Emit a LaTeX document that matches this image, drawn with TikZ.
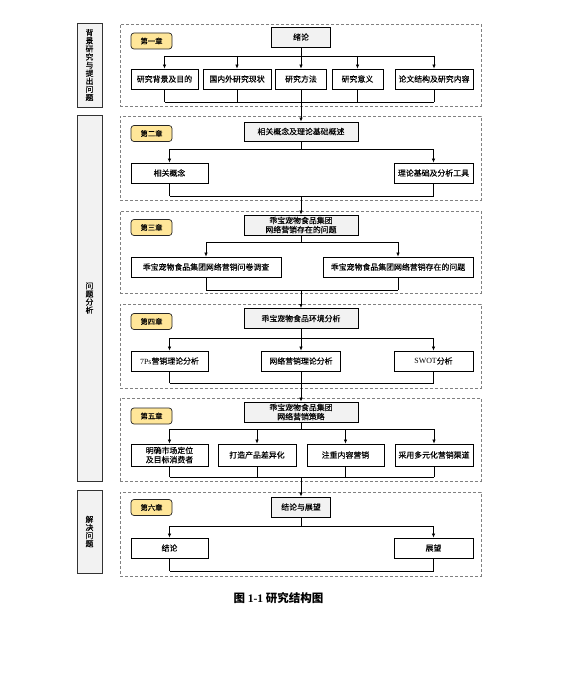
\documentclass[tikz,border=0pt]{standalone}
\usepackage{fontspec}
\setmainfont{Liberation Serif}
\newfontfamily\cjk{Noto Sans CJK SC}[FakeBold=0.2]
\newfontfamily\cjkcap{Noto Sans CJK SC}
\usetikzlibrary{arrows.meta}
\definecolor{tagfill}{RGB}{255,230,153}
\definecolor{boxgray}{RGB}{242,242,242}
\tikzset{
  every node/.style={inner sep=0pt, font=\cjk\fontsize{7.9}{9.2}\selectfont},
  topbox/.style={draw=black, line width=0.9pt, fill=boxgray, minimum height=20, align=center},
  subbox/.style={draw=black, line width=0.8pt, fill=white, minimum height=20, align=center},
  tagbox/.style={draw=black!85, line width=0.7pt, fill=tagfill, rounded corners=3pt, minimum width=41, minimum height=16, font=\cjk\fontsize{7.3}{8}\selectfont},
  sidebox/.style={draw=black!80, line width=0.9pt, fill=boxgray, minimum width=25, align=center, font=\cjk\fontsize{7.8}{8.1}\selectfont},
  framebox/.style={draw=black!50, dash pattern=on 3pt off 2pt, line width=0.7pt, minimum width=361},
  arr/.style={-{Latex[length=4pt,width=3.5pt]}, line width=0.7pt},
  ln/.style={line width=0.7pt},
}
\begin{document}
\begin{tikzpicture}[x=1pt,y=-1pt]
\useasboundingbox[fill=white] (0,0) rectangle (564,698);
% side boxes
\node[sidebox, minimum height=84] (s1) at (89.5,65) {背\\景\\研\\究\\与\\提\\出\\问\\题};
\node[sidebox, minimum height=366] (s2) at (89.5,298) {问\\题\\分\\析};
\node[sidebox, minimum height=83] (s3) at (89.5,531.5) {解\\决\\问\\题};
% dashed frames
\node[framebox, minimum height=82] (f1) at (300.5,65) {};
\node[framebox, minimum height=84] (f2) at (300.5,158) {};
\node[framebox, minimum height=82] (f3) at (300.5,252) {};
\node[framebox, minimum height=84] (f4) at (300.5,346) {};
\node[framebox, minimum height=83] (f5) at (300.5,439.5) {};
\node[framebox, minimum height=84] (f6) at (300.5,534) {};
% chapter tags
\node[tagbox] (k1) at (151.5,41) {第一章};
\node[tagbox] (k2) at (151.5,133.5) {第二章};
\node[tagbox] (k3) at (151.5,227.5) {第三章};
\node[tagbox] (k4) at (151.5,321.5) {第四章};
\node[tagbox] (k5) at (151.5,416) {第五章};
\node[tagbox] (k6) at (151.5,507.5) {第六章};
% top boxes
\node[topbox, minimum width=59] (t1) at (301,37) {绪论};
\node[topbox, minimum width=114, minimum height=19] (t2) at (301,131.5) {相关概念及理论基础概述};
\node[topbox, minimum width=114] (t3) at (301,225) {乖宝宠物食品集团\\网络营销存在的问题};
\node[topbox, minimum width=114] (t4) at (301,318.5) {乖宝宠物食品环境分析};
\node[topbox, minimum width=114] (t5) at (301,412) {乖宝宠物食品集团\\网络营销策略};
\node[topbox, minimum width=59] (t6) at (301,507) {结论与展望};
% section 1
\node[subbox, minimum width=67] (a1) at (164.5,79) {研究背景及目的};
\node[subbox, minimum width=68] (a2) at (237,79) {国内外研究现状};
\node[subbox, minimum width=51] (a3) at (301,79) {研究方法};
\node[subbox, minimum width=51] (a4) at (357.5,79) {研究意义};
\node[subbox, minimum width=78] (a5) at (434,79) {论文结构及研究内容};
% section 2
\node[subbox, minimum width=77] (b1) at (169.5,173) {相关概念};
\node[subbox, minimum width=79] (b2) at (433.5,173) {理论基础及分析工具};
% section 3
\node[subbox, minimum width=150] (c1) at (206,267) {乖宝宠物食品集团网络营销问卷调查};
\node[subbox, minimum width=150] (c2) at (398,267) {乖宝宠物食品集团网络营销存在的问题};
% section 4
\node[subbox, minimum width=77] (d1) at (169.5,361) {{\rmfamily 7Ps}营销理论分析};
\node[subbox, minimum width=79] (d2) at (301,361) {网络营销理论分析};
\node[subbox, minimum width=79] (d3) at (433.5,361) {{\rmfamily SWOT}分析};
% section 5
\node[subbox, minimum width=77, minimum height=22] (e1) at (169.5,455) {明确市场定位\\及目标消费者};
\node[subbox, minimum width=78, minimum height=22] (e2) at (257,455) {打造产品差异化};
\node[subbox, minimum width=77, minimum height=22] (e3) at (345.5,455) {注重内容营销};
\node[subbox, minimum width=78, minimum height=22] (e4) at (434,455) {采用多元化营销渠道};
% section 6
\node[subbox, minimum width=77] (g1) at (169.5,548) {结论};
\node[subbox, minimum width=79] (g2) at (433.5,548) {展望};
% junctions
\coordinate (j1) at (301,56);  \coordinate (m1) at (301,102);
\coordinate (j2) at (301,149); \coordinate (m2) at (301,196);
\coordinate (j3) at (301,242); \coordinate (m3) at (301,290);
\coordinate (j4) at (301,338); \coordinate (m4) at (301,383);
\coordinate (j5) at (301,429); \coordinate (m5) at (301,477);
\coordinate (j6) at (301,526); \coordinate (m6) at (301,571);
% section 1 connectors
\draw[ln] (t1.south) -- (j1);
\draw[ln] (j1 -| a1.north) -- (j1 -| a5.north);
\foreach \n in {a1,a2,a3,a4,a5} {
  \draw[arr] (j1 -| \n.north) -- (\n.north);
  \draw[ln] (\n.south) -- (m1 -| \n.south);
}
\draw[ln] (m1 -| a1.south) -- (m1 -| a5.south);
\draw[arr] (m1) -- (t2.north);
% section 2
\draw[ln] (t2.south) -- (j2);
\draw[ln] (j2 -| b1.north) -- (j2 -| b2.north);
\foreach \n in {b1,b2} {
  \draw[arr] (j2 -| \n.north) -- (\n.north);
  \draw[ln] (\n.south) -- (m2 -| \n.south);
}
\draw[ln] (m2 -| b1.south) -- (m2 -| b2.south);
\draw[arr] (m2) -- (t3.north);
% section 3
\draw[ln] (t3.south) -- (j3);
\draw[ln] (j3 -| c1.north) -- (j3 -| c2.north);
\foreach \n in {c1,c2} {
  \draw[arr] (j3 -| \n.north) -- (\n.north);
  \draw[ln] (\n.south) -- (m3 -| \n.south);
}
\draw[ln] (m3 -| c1.south) -- (m3 -| c2.south);
\draw[arr] (m3) -- (t4.north);
% section 4
\draw[ln] (t4.south) -- (j4);
\draw[ln] (j4 -| d1.north) -- (j4 -| d3.north);
\foreach \n in {d1,d2,d3} {
  \draw[arr] (j4 -| \n.north) -- (\n.north);
  \draw[ln] (\n.south) -- (m4 -| \n.south);
}
\draw[ln] (m4 -| d1.south) -- (m4 -| d3.south);
\draw[arr] (m4) -- (t5.north);
% section 5
\draw[ln] (t5.south) -- (j5);
\draw[ln] (j5 -| e1.north) -- (j5 -| e4.north);
\foreach \n in {e1,e2,e3,e4} {
  \draw[arr] (j5 -| \n.north) -- (\n.north);
  \draw[ln] (\n.south) -- (m5 -| \n.south);
}
\draw[ln] (m5 -| e1.south) -- (m5 -| e4.south);
\draw[arr] (m5) -- (t6.north);
% section 6
\draw[ln] (t6.south) -- (j6);
\draw[ln] (j6 -| g1.north) -- (j6 -| g2.north);
\foreach \n in {g1,g2} {
  \draw[arr] (j6 -| \n.north) -- (\n.north);
  \draw[ln] (\n.south) -- (m6 -| \n.south);
}
\draw[ln] (m6 -| g1.south) -- (m6 -| g2.south);
% caption
\node[font=\cjkcap\bfseries\fontsize{11.5}{12}\selectfont] (cap) at (278.5,598) {图 {\rmfamily\bfseries 1-1} 研究结构图};
\end{tikzpicture}
\end{document}
